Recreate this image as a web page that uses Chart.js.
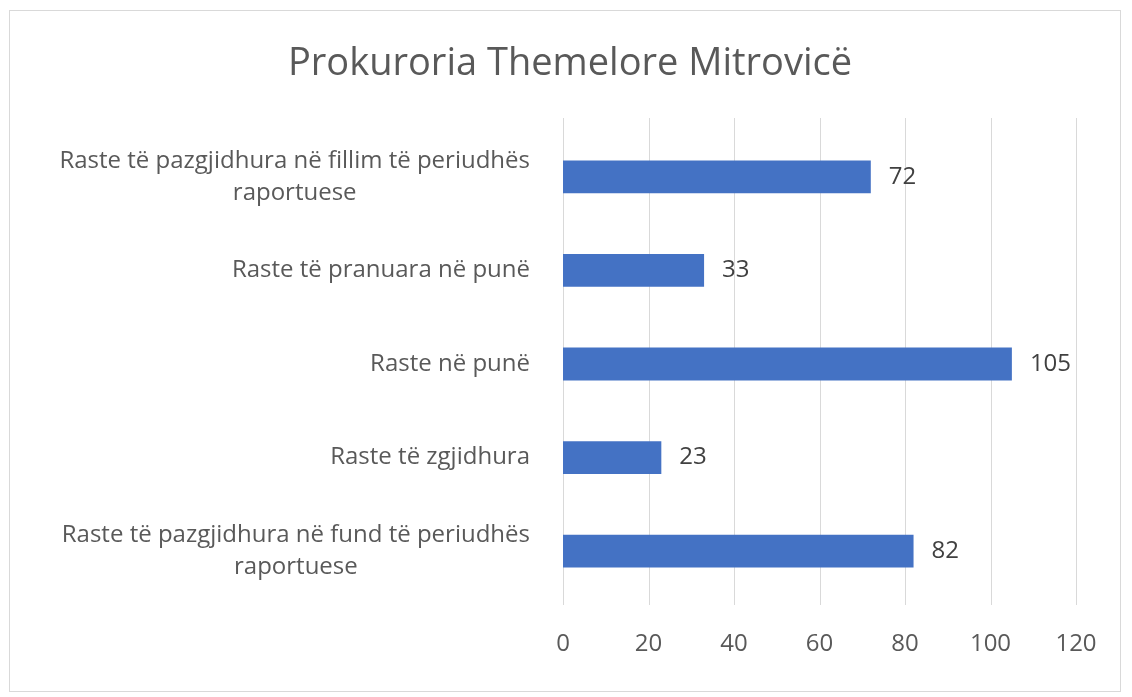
<!DOCTYPE html>
<html>
<head>
<meta charset="utf-8">
<script src="https://cdn.jsdelivr.net/npm/chart.js@4"></script>
<style>
  html, body { margin: 0; padding: 0; background: #fff; }
  #wrap { width: 1132px; height: 697px; position: relative; }
</style>
</head>
<body>
<div id="wrap"><canvas id="chart" width="1132" height="697"></canvas></div>
<script>
'use strict';

const TITLE = 'Prokuroria Themelore Mitrovicë';
const categories = [
  ['Raste të pazgjidhura në fillim të periudhës', 'raportuese'],
  ['Raste të pranuara në punë'],
  ['Raste në punë'],
  ['Raste të zgjidhura'],
  ['Raste të pazgjidhura në fund të periudhës', 'raportuese']
];
const values = [72, 33, 105, 23, 82];
const xTicks = [0, 20, 40, 60, 80, 100, 120];

const FONT = "'Open Sans', 'Noto Sans', sans-serif";
const TEXT = '#595959';

// frame + title
const FramePlugin = {
  id: 'frame',
  beforeDraw(chart) {
    const { ctx } = chart;
    ctx.save();
    ctx.fillStyle = '#fff';
    ctx.fillRect(0, 0, chart.width, chart.height);
    ctx.strokeStyle = '#d9d9d9';
    ctx.lineWidth = 1;
    ctx.strokeRect(9.5, 10.5, 1111, 681);
    ctx.fillStyle = TEXT;
    ctx.font = `38px ${FONT}`;
    ctx.textAlign = 'center';
    ctx.textBaseline = 'middle';
    ctx.fillText(TITLE, 570, 64);
    ctx.restore();
  }
};

// vertical gridlines, a bit taller than the plot area (as in the Excel chart)
const GridPlugin = {
  id: 'xgrid',
  beforeDatasetsDraw(chart) {
    const { ctx, chartArea } = chart;
    const x = chart.scales.x;
    ctx.save();
    ctx.strokeStyle = '#d9d9d9';
    ctx.lineWidth = 1;
    xTicks.forEach(v => {
      const px = Math.round(x.getPixelForValue(v)) + 0.5;
      ctx.beginPath();
      ctx.moveTo(px, chartArea.top - 12);
      ctx.lineTo(px, chartArea.bottom + 7);
      ctx.stroke();
    });
    ctx.restore();
  }
};

// category labels: block right-aligned to axis, lines centred in the block
const CatLabels = {
  id: 'catLabels',
  afterDraw(chart) {
    const { ctx, chartArea } = chart;
    const y = chart.scales.y;
    ctx.save();
    ctx.fillStyle = TEXT;
    ctx.font = `24px ${FONT}`;
    ctx.textAlign = 'center';
    ctx.textBaseline = 'middle';
    const lh = 32;
    categories.forEach((lines, i) => {
      const cy = y.getPixelForValue(i);
      const w = Math.max(...lines.map(l => ctx.measureText(l).width));
      const right = chartArea.left - 33;
      const cx = right - w / 2;
      const top = cy - (lines.length - 1) * lh / 2;
      lines.forEach((l, k) => ctx.fillText(l, cx, top + k * lh));
    });
    ctx.restore();
  }
};

// value labels at bar ends
const ValueLabels = {
  id: 'valueLabels',
  afterDatasetsDraw(chart) {
    const { ctx } = chart;
    const meta = chart.getDatasetMeta(0);
    ctx.save();
    ctx.fillStyle = '#404040';
    ctx.font = `24px ${FONT}`;
    ctx.textAlign = 'left';
    ctx.textBaseline = 'middle';
    meta.data.forEach((bar, i) => {
      ctx.fillText(String(values[i]), bar.x + 18, bar.y);
    });
    ctx.restore();
  }
};

const ctx = document.getElementById('chart').getContext('2d');
new Chart(ctx, {
  type: 'bar',
  data: {
    labels: categories.map(c => c.join(' ')),
    datasets: [{
      data: values,
      backgroundColor: '#4472c4',
      borderWidth: 0,
      barPercentage: 0.35,
      categoryPercentage: 1
    }]
  },
  options: {
    indexAxis: 'y',
    responsive: false,
    animation: false,
    layout: { padding: { top: 130, right: 56, bottom: 0, left: 0 } },
    plugins: { legend: { display: false }, title: { display: false }, tooltip: { enabled: false } },
    scales: {
      x: {
        min: 0, max: 120,
        afterBuildTicks(scale) { scale.ticks = xTicks.map(v => ({ value: v })); },
        afterFit(scale) { scale.height = 99; },
        grid: { display: false, drawTicks: false },
        border: { display: false },
        ticks: { color: TEXT, font: { family: FONT, size: 24 }, padding: 32 }
      },
      y: {
        afterFit(scale) { scale.width = 563; },
        grid: { display: false },
        border: { display: false },
        ticks: { display: false }
      }
    }
  },
  plugins: [FramePlugin, GridPlugin, CatLabels, ValueLabels]
});
</script>
</body>
</html>
